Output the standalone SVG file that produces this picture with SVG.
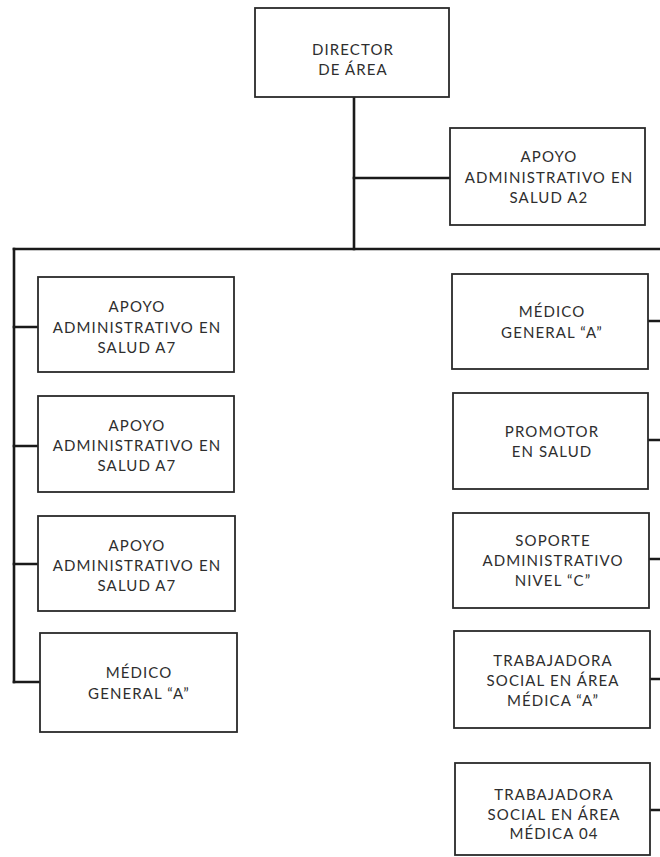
<svg xmlns="http://www.w3.org/2000/svg" width="660" height="857" viewBox="0 0 660 857">
  <style>
    .box { fill: #ffffff; stroke: #2a2a2a; stroke-width: 1.8; }
    .lbl { font-family: Lato, "Liberation Sans", sans-serif; font-size: 15px; letter-spacing: 1.1px; fill: #2e2e2e; text-anchor: middle; }
    .wire { fill: none; stroke: #1a1a1a; stroke-width: 2.6; stroke-linecap: square; }
  </style>
  <rect width="660" height="857" fill="#ffffff"/>

  <g id="connectors">
    <path class="wire" d="M354 97 V249"/>
    <path class="wire" d="M354 178 H450"/>
    <path class="wire" d="M14 249 H662"/>
    <path class="wire" d="M14 249 V682"/>
    <path class="wire" d="M14 327 H38 M14 446 H38 M14 564 H38 M14 682 H40"/>
    <path class="wire" d="M662 249 V810"/>
    <path class="wire" d="M648 321 H662 M648 440 H662 M649 559 H662 M650 679 H662 M650 810 H662"/>
  </g>

  <g id="director">
    <rect class="box" x="255" y="8" width="194" height="89"/>
    <text class="lbl" x="353" y="55">DIRECTOR</text>
    <text class="lbl" x="353" y="75">DE ÁREA</text>
  </g>

  <g id="apoyo-a2">
    <rect class="box" x="450" y="128" width="195" height="97"/>
    <text class="lbl" x="549" y="162">APOYO</text>
    <text class="lbl" x="549" y="183">ADMINISTRATIVO EN</text>
    <text class="lbl" x="549" y="203">SALUD A2</text>
  </g>

  <g id="apoyo-a7-1">
    <rect class="box" x="38" y="277" width="196" height="95"/>
    <text class="lbl" x="137" y="312">APOYO</text>
    <text class="lbl" x="137" y="333">ADMINISTRATIVO EN</text>
    <text class="lbl" x="137" y="353">SALUD A7</text>
  </g>

  <g id="apoyo-a7-2">
    <rect class="box" x="38" y="396" width="196" height="96"/>
    <text class="lbl" x="137" y="431">APOYO</text>
    <text class="lbl" x="137" y="451">ADMINISTRATIVO EN</text>
    <text class="lbl" x="137" y="471">SALUD A7</text>
  </g>

  <g id="apoyo-a7-3">
    <rect class="box" x="38" y="516" width="197" height="95"/>
    <text class="lbl" x="137" y="551">APOYO</text>
    <text class="lbl" x="137" y="571">ADMINISTRATIVO EN</text>
    <text class="lbl" x="137" y="591">SALUD A7</text>
  </g>

  <g id="medico-izq">
    <rect class="box" x="40" y="633" width="197" height="99"/>
    <text class="lbl" x="139" y="678">MÉDICO</text>
    <text class="lbl" x="139" y="699">GENERAL “A”</text>
  </g>

  <g id="medico-der">
    <rect class="box" x="452" y="274" width="196" height="95"/>
    <text class="lbl" x="552" y="317">MÉDICO</text>
    <text class="lbl" x="552" y="338">GENERAL “A”</text>
  </g>

  <g id="promotor">
    <rect class="box" x="453" y="393" width="195" height="96"/>
    <text class="lbl" x="552" y="437">PROMOTOR</text>
    <text class="lbl" x="552" y="457">EN SALUD</text>
  </g>

  <g id="soporte">
    <rect class="box" x="453" y="513" width="196" height="95"/>
    <text class="lbl" x="553" y="546">SOPORTE</text>
    <text class="lbl" x="553" y="566">ADMINISTRATIVO</text>
    <text class="lbl" x="553" y="586">NIVEL “C”</text>
  </g>

  <g id="trabajadora-a">
    <rect class="box" x="454" y="631" width="196" height="97"/>
    <text class="lbl" x="553" y="666">TRABAJADORA</text>
    <text class="lbl" x="553" y="686">SOCIAL EN ÁREA</text>
    <text class="lbl" x="553" y="706">MÉDICA “A”</text>
  </g>

  <g id="trabajadora-04">
    <rect class="box" x="455" y="763" width="195" height="92"/>
    <text class="lbl" x="554" y="800">TRABAJADORA</text>
    <text class="lbl" x="554" y="820">SOCIAL EN ÁREA</text>
    <text class="lbl" x="554" y="839">MÉDICA 04</text>
  </g>
</svg>
